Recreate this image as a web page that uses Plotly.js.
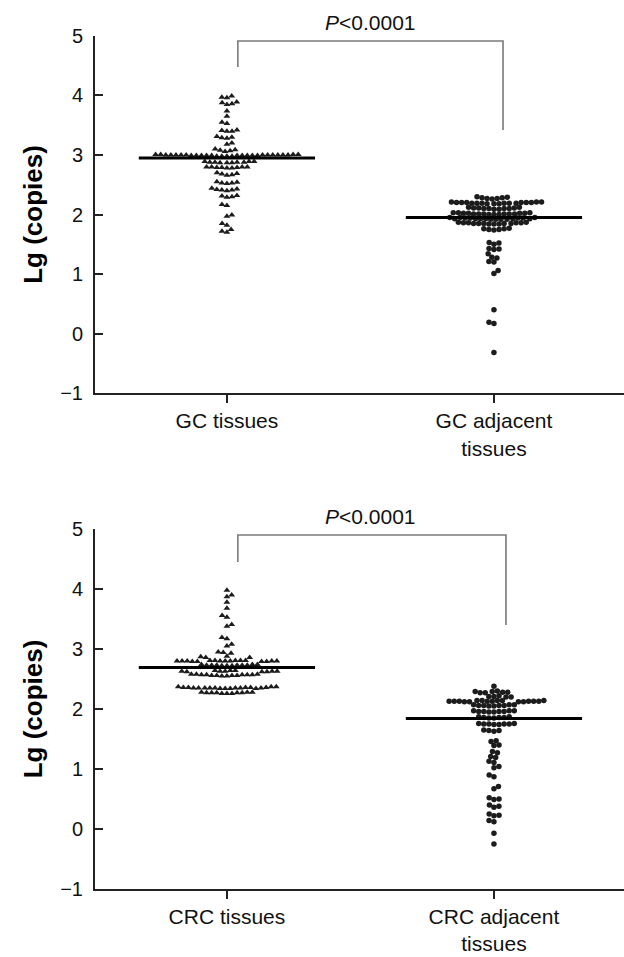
<!DOCTYPE html>
<html>
<head>
<meta charset="utf-8">
<script src="https://cdn.plot.ly/plotly-3.0.1.min.js"></script>
<style>
  html, body { margin: 0; padding: 0; background: #fff; }
  #chart { width: 624px; height: 957px; }
</style>
</head>
<body>
<div id="chart"></div>
<script>
// ---------- data ----------
const topCategories = ["GC tissues", "GC adjacent<br>tissues"];
const bottomCategories = ["CRC tissues", "CRC adjacent<br>tissues"];

const gcTissues = [
  3.99, 3.97, 3.96,
  3.89, 3.88, 3.86, 3.85,
  3.74, 3.65, 3.55, 3.53,
  3.42, 3.41, 3.40, 3.40,
  3.31, 3.30, 3.29, 3.28,
  3.20, 3.18,
  3.10, 3.09, 3.08, 3.07, 3.06,
  3.01, 3.00, 3.00, 3.00, 2.99, 2.99, 2.99, 3.00, 3.01, 2.99, 2.98, 3.00, 2.99, 3.00, 3.01, 2.98,
  2.99, 3.00, 2.99, 3.00, 2.98, 3.01, 2.99, 3.00, 2.99, 3.00, 2.98, 2.99, 3.00,
  2.89, 2.88, 2.88, 2.87, 2.89, 2.88, 2.87, 2.88, 2.89, 2.87,
  2.80, 2.79, 2.80, 2.78, 2.79, 2.80, 2.79, 2.78, 2.80,
  2.70, 2.69, 2.68, 2.67, 2.66,
  2.55, 2.54, 2.53, 2.53, 2.52,
  2.44, 2.43, 2.42, 2.41, 2.41, 2.40,
  2.32, 2.31, 2.30, 2.29,
  2.17, 2.15,
  1.99, 1.97,
  1.85, 1.82,
  1.75, 1.72, 1.70
];

const gcAdjacent = [
  2.30, 2.29, 2.28, 2.28, 2.27, 2.27, 2.26,
  2.21, 2.20, 2.20, 2.19, 2.19, 2.21, 2.18, 2.20, 2.19, 2.20, 2.18, 2.19, 2.21, 2.20, 2.19, 2.18, 2.20, 2.19,
  2.12, 2.11, 2.10, 2.10, 2.09, 2.11, 2.10, 2.12, 2.09, 2.10, 2.11,
  2.03, 2.02, 2.01, 2.01, 2.00, 2.02, 2.01, 2.03, 2.00, 2.01, 2.02, 2.01, 2.00, 2.02, 2.01, 2.03,
  1.95, 1.94, 1.93, 1.93, 1.92, 1.94, 1.93, 1.95, 1.92, 1.93, 1.94, 1.93, 1.92, 1.94, 1.93, 1.95, 1.92,
  1.87, 1.86, 1.85, 1.85, 1.84, 1.86, 1.85, 1.87, 1.84, 1.85, 1.86, 1.85, 1.84, 1.86,
  1.77, 1.76, 1.75, 1.75, 1.74, 1.76,
  1.53, 1.52, 1.50,
  1.43, 1.42, 1.41,
  1.34,
  1.28, 1.27,
  1.21, 1.20,
  1.06, 1.01,
  0.40,
  0.19, 0.17,
  -0.32
];

const crcTissues = [
  3.98,
  3.90, 3.87,
  3.78, 3.68,
  3.56, 3.53,
  3.41, 3.38,
  3.19, 3.17,
  3.08, 3.05,
  2.95, 2.94, 2.93,
  2.88, 2.87, 2.86, 2.86,
  2.81, 2.80, 2.80, 2.79, 2.81, 2.80, 2.79, 2.80, 2.81, 2.80, 2.79, 2.80, 2.81, 2.80, 2.79, 2.80, 2.81,
  2.74, 2.73, 2.73, 2.72, 2.74, 2.73, 2.72, 2.73, 2.74, 2.73, 2.72, 2.73,
  2.64, 2.63, 2.63, 2.62, 2.64, 2.63, 2.62, 2.63, 2.64, 2.62, 2.63,
  2.58, 2.57, 2.57, 2.56, 2.55, 2.57, 2.58, 2.56, 2.57, 2.55, 2.56, 2.57, 2.58, 2.56,
  2.37, 2.36, 2.35, 2.35, 2.34, 2.36, 2.35, 2.37, 2.34, 2.35, 2.36, 2.35, 2.34, 2.36, 2.35, 2.37, 2.34, 2.35, 2.36, 2.35,
  2.28, 2.27, 2.27, 2.26, 2.28, 2.27, 2.26, 2.27, 2.28, 2.27, 2.26
];

const crcAdjacent = [
  2.38,
  2.30, 2.29, 2.29, 2.28, 2.28, 2.27, 2.27,
  2.22, 2.21, 2.21, 2.20, 2.20,
  2.14, 2.13, 2.13, 2.12, 2.14, 2.13, 2.12, 2.13, 2.14, 2.13, 2.12, 2.13, 2.14, 2.13, 2.12, 2.13, 2.14,
  2.07, 2.06, 2.06, 2.05, 2.07, 2.06, 2.05, 2.06, 2.07,
  1.97, 1.96, 1.96, 1.95, 1.97, 1.96, 1.95, 1.96, 1.97,
  1.87, 1.86, 1.86, 1.85, 1.87, 1.86, 1.85,
  1.76, 1.75, 1.75, 1.74, 1.76, 1.75, 1.74, 1.75,
  1.65, 1.64, 1.64, 1.63,
  1.47, 1.46,
  1.40, 1.39,
  1.29, 1.27,
  1.21, 1.19,
  1.13, 1.11,
  1.04, 1.02,
  0.90, 0.87,
  0.71, 0.67,
  0.52, 0.50, 0.49,
  0.40, 0.38, 0.36,
  0.25, 0.23, 0.22,
  0.14, 0.12,
  -0.07,
  -0.25
];

const topMedians = [2.95, 1.95];
const bottomMedians = [2.69, 1.84];
const pValueText = "<i>P</i>&lt;0.0001";

// ---------- layout: beeswarm offsets computed from the values ----------
const X_RANGE = [-0.494, 1.487];
const PLOT_W = 624 - 95;
const PX_PER_X = PLOT_W / (X_RANGE[1] - X_RANGE[0]);

function beeswarm(vals, center, diam, pxPerY) {
  const order = vals.map((v, i) => i).sort((a, b) => vals[a] - vals[b]);
  const placed = [];
  const xs = new Array(vals.length);
  let lastSide = 1;
  order.forEach(i => {
    const yp = vals[i] * pxPerY;
    const nb = placed.filter(p => Math.abs(p.y - yp) < diam);
    const cands = [0];
    nb.forEach(p => {
      const dx = Math.sqrt(diam * diam - (p.y - yp) * (p.y - yp));
      cands.push(p.x + dx, p.x - dx);
    });
    cands.sort((a, b) => {
      const d = Math.abs(a) - Math.abs(b);
      if (Math.abs(d) > 1e-6) return d;
      return (b * -lastSide) - (a * -lastSide);
    });
    let chosen = 0;
    for (const c of cands) {
      if (nb.every(p => (c - p.x) * (c - p.x) + (p.y - yp) * (p.y - yp) >= diam * diam - 1e-6)) {
        chosen = c; break;
      }
    }
    if (chosen !== 0) lastSide = Math.sign(chosen);
    placed.push({ x: chosen, y: yp });
    xs[i] = center + chosen / PX_PER_X;
  });
  return xs;
}

const FONT = "Liberation Sans, Arial, Helvetica, sans-serif";
const DOT = "#1c1c1c";
const DIAM = 5.1;

function pointsTrace(vals, center, sym, xa, ya, pxPerY) {
  return {
    type: "scatter", mode: "markers",
    x: beeswarm(vals, center, DIAM, pxPerY), y: vals,
    xaxis: xa, yaxis: ya,
    marker: { symbol: sym, size: sym === "circle" ? 5.5 : 6, color: DOT, line: { width: 0 } },
    hoverinfo: "y", cliponaxis: false
  };
}
function medianTrace(m, center, xa, ya) {
  return {
    type: "scatter", mode: "lines",
    x: [center - 0.33, center + 0.33], y: [m, m],
    xaxis: xa, yaxis: ya,
    line: { color: "#000", width: 3 }, hoverinfo: "skip"
  };
}

const TOP_PX_PER_Y = 59.5, BOT_PX_PER_Y = 60;
const traces = [
  pointsTrace(gcTissues, 0, "triangle-up", "x", "y", TOP_PX_PER_Y),
  pointsTrace(gcAdjacent, 1, "circle", "x", "y", TOP_PX_PER_Y),
  medianTrace(topMedians[0], 0, "x", "y"),
  medianTrace(topMedians[1], 1, "x", "y"),
  pointsTrace(crcTissues, 0, "triangle-up", "x2", "y2", BOT_PX_PER_Y),
  pointsTrace(crcAdjacent, 1, "circle", "x2", "y2", BOT_PX_PER_Y),
  medianTrace(bottomMedians[0], 0, "x2", "y2"),
  medianTrace(bottomMedians[1], 1, "x2", "y2")
];

function xAxis(anchor, labels) {
  return {
    anchor: anchor, domain: [0, 1], range: X_RANGE,
    tickmode: "array", tickvals: [0, 1], ticktext: labels,
    ticks: "outside", ticklen: 8, tickwidth: 2, tickcolor: "#222",
    showline: true, linewidth: 2, linecolor: "#222",
    showgrid: false, zeroline: false, fixedrange: true,
    tickfont: { family: FONT, size: 21, color: "#111" }
  };
}
function yAxis(anchor, domain) {
  return {
    anchor: anchor, domain: domain, range: [-1, 5],
    tickmode: "linear", tick0: -1, dtick: 1,
    ticks: "inside", ticklen: 8, tickwidth: 2, tickcolor: "#222",
    showline: true, linewidth: 2, linecolor: "#222",
    showgrid: false, zeroline: false, fixedrange: true,
    ticklabelstandoff: 6,
    tickfont: { family: FONT, size: 20, color: "#111" },
    title: { text: "<b>Lg (copies)</b>", font: { family: FONT, size: 26, color: "#000" }, standoff: 10 }
  };
}

function bracket(xa, ya, xl, xr, yTop, yLeft, yRight) {
  return {
    type: "path", xref: xa, yref: ya,
    path: `M ${xl},${yLeft} L ${xl},${yTop} L ${xr},${yTop} L ${xr},${yRight}`,
    line: { color: "#7a7a7a", width: 1.6 }
  };
}

const layout = {
  width: 624, height: 957,
  margin: { l: 95, r: 0, t: 0, b: 0 },
  paper_bgcolor: "#fff", plot_bgcolor: "#fff",
  showlegend: false,
  font: { family: FONT, color: "#111" },
  xaxis: xAxis("y", topCategories),
  yaxis: yAxis("x", [0.5893, 0.9624]),
  xaxis2: xAxis("y2", bottomCategories),
  yaxis2: yAxis("x2", [0.0711, 0.4472]),
  shapes: [
    bracket("x", "y", 0.041, 1.034, 4.916, 4.479, 3.42),
    bracket("x2", "y2", 0.041, 1.045, 4.90, 4.45, 3.40)
  ],
  annotations: [
    { xref: "x", yref: "paper", x: 0.536, y: 0.977, text: pValueText, showarrow: false,
      xanchor: "center", yanchor: "middle", font: { family: FONT, size: 21, color: "#111" } },
    { xref: "x2", yref: "paper", x: 0.536, y: 0.4608, text: pValueText, showarrow: false,
      xanchor: "center", yanchor: "middle", font: { family: FONT, size: 21, color: "#111" } }
  ]
};

Plotly.newPlot("chart", traces, layout, { staticPlot: true, displayModeBar: false });
</script>
</body>
</html>
